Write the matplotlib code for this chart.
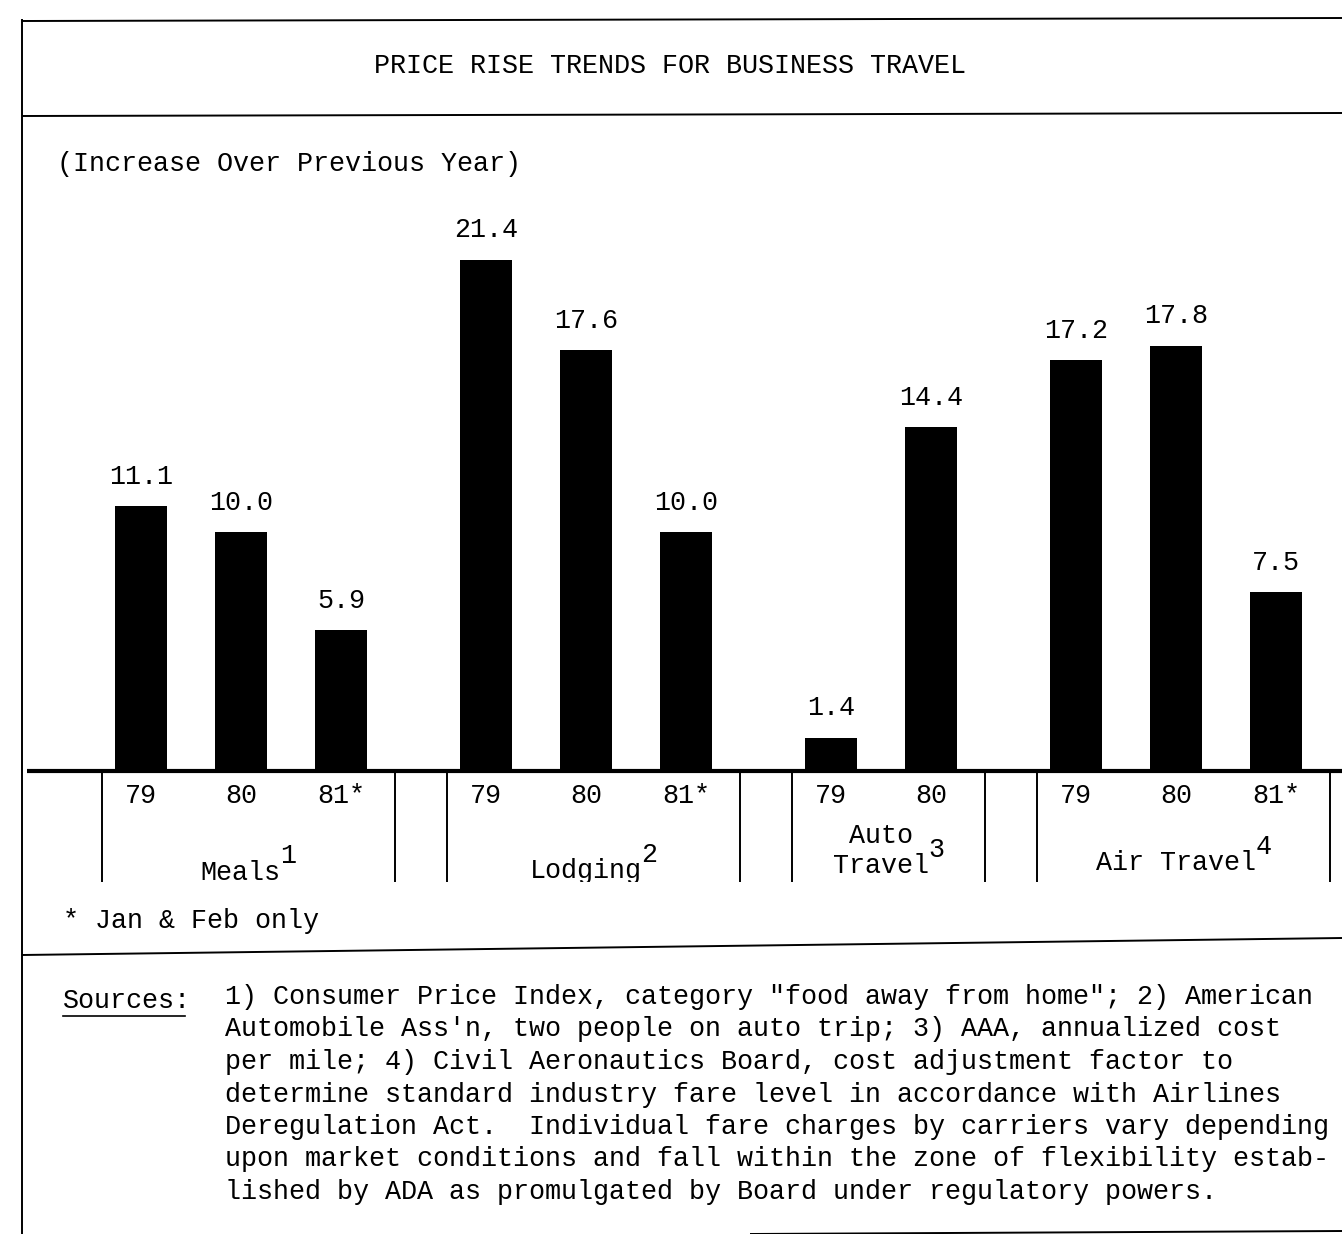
import matplotlib
matplotlib.use("Agg")
import matplotlib.pyplot as plt

# ---------------- data ----------------
title = "PRICE RISE TRENDS FOR BUSINESS TRAVEL"
subtitle = "(Increase Over Previous Year)"
groups = ["Meals", "Lodging", "Auto\nTravel", "Air Travel"]
group_notes = ["1", "2", "3", "4"]
years_meals = ["79", "80", "81*"]
meals = [11.1, 10.0, 5.9]
years_lodging = ["79", "80", "81*"]
lodging = [21.4, 17.6, 10.0]
years_auto = ["79", "80"]
auto = [1.4, 14.4]
years_air = ["79", "80", "81*"]
air = [17.2, 17.8, 7.5]
footnote = "* Jan & Feb only"
sources_label = "Sources:"
sources_lines = [
    "1) Consumer Price Index, category \"food away from home\"; 2) American",
    "Automobile Ass'n, two people on auto trip; 3) AAA, annualized cost",
    "per mile; 4) Civil Aeronautics Board, cost adjustment factor to",
    "determine standard industry fare level in accordance with Airlines",
    "Deregulation Act.  Individual fare charges by carriers vary depending",
    "upon market conditions and fall within the zone of flexibility estab-",
    "lished by ADA as promulgated by Board under regulatory powers.",
]

series = [meals, lodging, auto, air]
year_labels = [years_meals, years_lodging, years_auto, years_air]

# ---------------- layout ----------------
W, H = 1342, 1234
FONT = "Liberation Mono"
FS = 19.3
plt.rcParams["font.family"] = [FONT, "DejaVu Sans Mono"]

fig = plt.figure(figsize=(W / 100, H / 100), dpi=100)
fig.patch.set_facecolor("white")

# decoration layer in pixel coordinates
deco = fig.add_axes([0, 0, 1, 1])
deco.set_xlim(0, W)
deco.set_ylim(H, 0)
deco.axis("off")

# bar axes
PX = 23.9          # pixels per percentage point
BASE = 771         # baseline pixel row
AX_TOP, AX_BOT = 200, 882
AX_L, AX_R = 27, W
U = 100            # pixels per bar slot
X0 = 141           # pixel centre of first bar
ax = fig.add_axes([AX_L / W, (H - AX_BOT) / H, (AX_R - AX_L) / W, (AX_BOT - AX_TOP) / H])
ax.set_xlim((AX_L - X0) / U, (AX_R - X0) / U)
ax.set_ylim(-(AX_BOT - BASE) / PX, (BASE - AX_TOP) / PX)
ax.axis("off")
ax.patch.set_alpha(0)

GAP = 1.45
offset = 0.0
label_y = [-4.25, -4.2, None, -3.85]
for g, (vals, yrs) in enumerate(zip(series, year_labels)):
    xs = [offset + i for i in range(len(vals))]
    ax.bar(xs, vals, width=0.52, color="black", zorder=3)
    for x, v, yl in zip(xs, vals, yrs):
        ax.annotate(f"{v:.1f}", (x, v), xytext=(0, 21), textcoords="offset points",
                    ha="center", va="center", fontsize=FS)
        ax.text(x, -1.05, yl, ha="center", va="center", fontsize=FS)
    left, right = xs[0] - 0.39, xs[-1] + 0.54
    ax.vlines([left, right], ax.get_ylim()[0], 0, color="black", lw=1.4, clip_on=False)
    cx = (left + right) / 2 - 0.08
    lines = groups[g].split("\n")
    if len(lines) == 1:
        t = ax.text(cx, label_y[g], lines[0], ha="center", va="center", fontsize=FS, clip_on=True)
    else:
        ax.text(cx, -2.74, lines[0], ha="center", va="center", fontsize=FS, clip_on=True)
        t = ax.text(cx, -3.98, lines[1], ha="center", va="center", fontsize=FS, clip_on=True)
    ax.annotate(group_notes[g], xy=(1.0, 0.62), xycoords=t, ha="left", va="bottom",
                fontsize=FS)
    offset = xs[-1] + GAP

ax.axhline(0, color="black", lw=3.0, zorder=4)

# ---------------- frame lines ----------------
lk = dict(color="black", lw=1.4, solid_capstyle="butt")
deco.plot([22, 22], [19, H], **lk)
deco.plot([22, W], [21, 18], **lk)
deco.plot([22, W], [116, 113], **lk)
deco.plot([22, W], [955, 938], **lk)
deco.plot([750, W], [1234, 1231], **lk)

# ---------------- texts ----------------
deco.text(670, 66, title, ha="center", va="center", fontsize=FS)
deco.text(57, 164, subtitle, ha="left", va="center", fontsize=FS)
deco.text(63, 921, footnote, ha="left", va="center", fontsize=FS)
deco.text(63, 1001, sources_label, ha="left", va="center", fontsize=FS)
deco.plot([63, 185], [1016, 1016], color="black", lw=1.2)
for i, line in enumerate(sources_lines):
    deco.text(225, 997 + i * 32.5, line, ha="left", va="center", fontsize=FS)

fig.savefig("out.png", dpi=100, facecolor="white")
